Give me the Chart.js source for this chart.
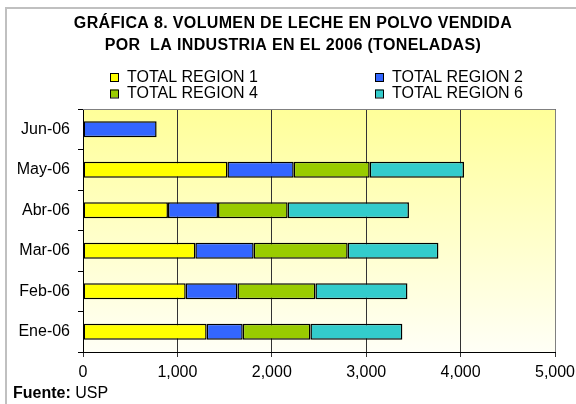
<!DOCTYPE html>
<html>
<head>
<meta charset="utf-8">
<script src="https://cdn.jsdelivr.net/npm/chart.js@4/dist/chart.umd.min.js"></script>
<style>
  html, body { margin: 0; padding: 0; background: #fff; }
  #wrap { width: 576px; height: 404px; position: relative; }
</style>
</head>
<body>
<div id="wrap"><canvas id="c" width="576" height="404"></canvas></div>
<script>
// ---- data ----
const categories = ['Ene-06', 'Feb-06', 'Mar-06', 'Abr-06', 'May-06', 'Jun-06'];
const region1 = [1310, 1088, 1190, 900, 1530, null];
const region2 = [382, 548, 618, 530, 702, 780];
const region4 = [717, 826, 996, 738, 805, null];
const region6 = [974, 975, 961, 1285, 999, null];
const seriesNames = ['TOTAL REGION 1', 'TOTAL REGION 2', 'TOTAL REGION 4', 'TOTAL REGION 6'];
const xTicks = [0, 1000, 2000, 3000, 4000, 5000];
const titleLines = ['GRÁFICA 8. VOLUMEN DE LECHE EN POLVO VENDIDA', 'POR  LA INDUSTRIA EN EL 2006 (TONELADAS)'];
const sourceBold = 'Fuente:';
const sourceText = ' USP';

const colors = ['#FFFF00', '#3366FF', '#99CC00', '#33CCCC'];
const FONT = "Arial, 'Liberation Sans', sans-serif";

const decor = {
  id: 'decor',
  beforeDraw(chart) {
    const ctx = chart.ctx, a = chart.chartArea;
    ctx.save();
    ctx.fillStyle = '#fff';
    ctx.fillRect(0, 0, chart.width, chart.height);
    // outer frame
    ctx.strokeStyle = '#C0C0C0';
    ctx.lineWidth = 2;
    ctx.beginPath();
    ctx.moveTo(6, 404); ctx.lineTo(6, 8); ctx.lineTo(576, 8);
    ctx.stroke();
    // plot gradient
    const g = ctx.createLinearGradient(0, a.top, 0, a.bottom);
    g.addColorStop(0, '#FFFF99');
    g.addColorStop(1, '#FFFFF6');
    ctx.fillStyle = g;
    ctx.fillRect(a.left, a.top, a.right - a.left, a.bottom - a.top);
    ctx.restore();
  },
  afterDraw(chart) {
    const ctx = chart.ctx, a = chart.chartArea;
    ctx.save();
    // plot frame top/right
    ctx.strokeStyle = '#808080';
    ctx.lineWidth = 1;
    ctx.beginPath();
    ctx.moveTo(a.left, a.top + 0.5); ctx.lineTo(a.right + 0.5, a.top + 0.5); ctx.lineTo(a.right + 0.5, a.bottom);
    ctx.stroke();
    // title
    ctx.fillStyle = '#000';
    ctx.font = 'bold 16px ' + FONT;
    ctx.textAlign = 'center';
    ctx.textBaseline = 'middle';
    try { ctx.letterSpacing = '0.35px'; } catch (e) {}
    ctx.fillText(titleLines[0], 293, 24);
    ctx.fillText(titleLines[1], 293, 46);
    try { ctx.letterSpacing = '0px'; } catch (e) {}
    // legend
    ctx.font = '16px ' + FONT;
    ctx.textAlign = 'left';
    const pos = [[110, 77], [375, 77], [110, 93.5], [375, 93.5]];
    chart.data.datasets.forEach((ds, i) => {
      const [x, y] = pos[i];
      ctx.fillStyle = ds.backgroundColor;
      ctx.fillRect(x, y - 4, 8, 8);
      ctx.strokeStyle = '#000';
      ctx.lineWidth = 1;
      ctx.strokeRect(x + 0.5, y - 3.5, 8, 8);
      ctx.fillStyle = '#000';
      ctx.fillText(ds.label, x + 17, y + 0.5);
    });
    // source
    ctx.textBaseline = 'middle';
    ctx.font = 'bold 16px ' + FONT;
    ctx.fillText(sourceBold, 13, 394);
    const w = ctx.measureText(sourceBold).width;
    ctx.font = '16px ' + FONT;
    ctx.fillText(sourceText, 13 + w, 394);
    ctx.restore();
  }
};

const values = [region1, region2, region4, region6];
new Chart(document.getElementById('c'), {
  type: 'bar',
  data: {
    labels: categories,
    datasets: seriesNames.map((n, i) => ({
      label: n,
      data: values[i],
      backgroundColor: colors[i],
      borderColor: '#000',
      borderWidth: 1.5,
      borderSkipped: false,
      barPercentage: 0.4,
      categoryPercentage: 1.0
    }))
  },
  options: {
    indexAxis: 'y',
    responsive: false,
    animation: false,
    devicePixelRatio: 1,
    layout: { padding: { top: 109, right: 21, left: 0, bottom: 0 } },
    plugins: { legend: { display: false }, title: { display: false }, tooltip: { enabled: false } },
    scales: {
      x: {
        stacked: true,
        min: 0, max: 5000,
        afterBuildTicks(s) { s.ticks = xTicks.map(v => ({ value: v })); },
        afterFit(s) { s.height = 52; s.paddingLeft = 0; s.paddingRight = 0; },
        grid: { color: '#333', lineWidth: 1, tickLength: 5, drawOnChartArea: true },
        border: { color: '#000', width: 1 },
        ticks: { color: '#000', font: { family: FONT, size: 16 }, padding: 6,
                 callback: v => Number(v).toLocaleString('en-US') }
      },
      y: {
        stacked: true,
        reverse: true,
        afterFit(s) { s.width = 83; s.paddingTop = 0; s.paddingBottom = 0; },
        grid: { drawOnChartArea: false, drawTicks: true, tickLength: 5, color: '#000' },
        border: { color: '#000', width: 1 },
        ticks: { color: '#000', font: { family: FONT, size: 16 }, padding: 8 }
      }
    }
  },
  plugins: [decor]
});
</script>
</body>
</html>
